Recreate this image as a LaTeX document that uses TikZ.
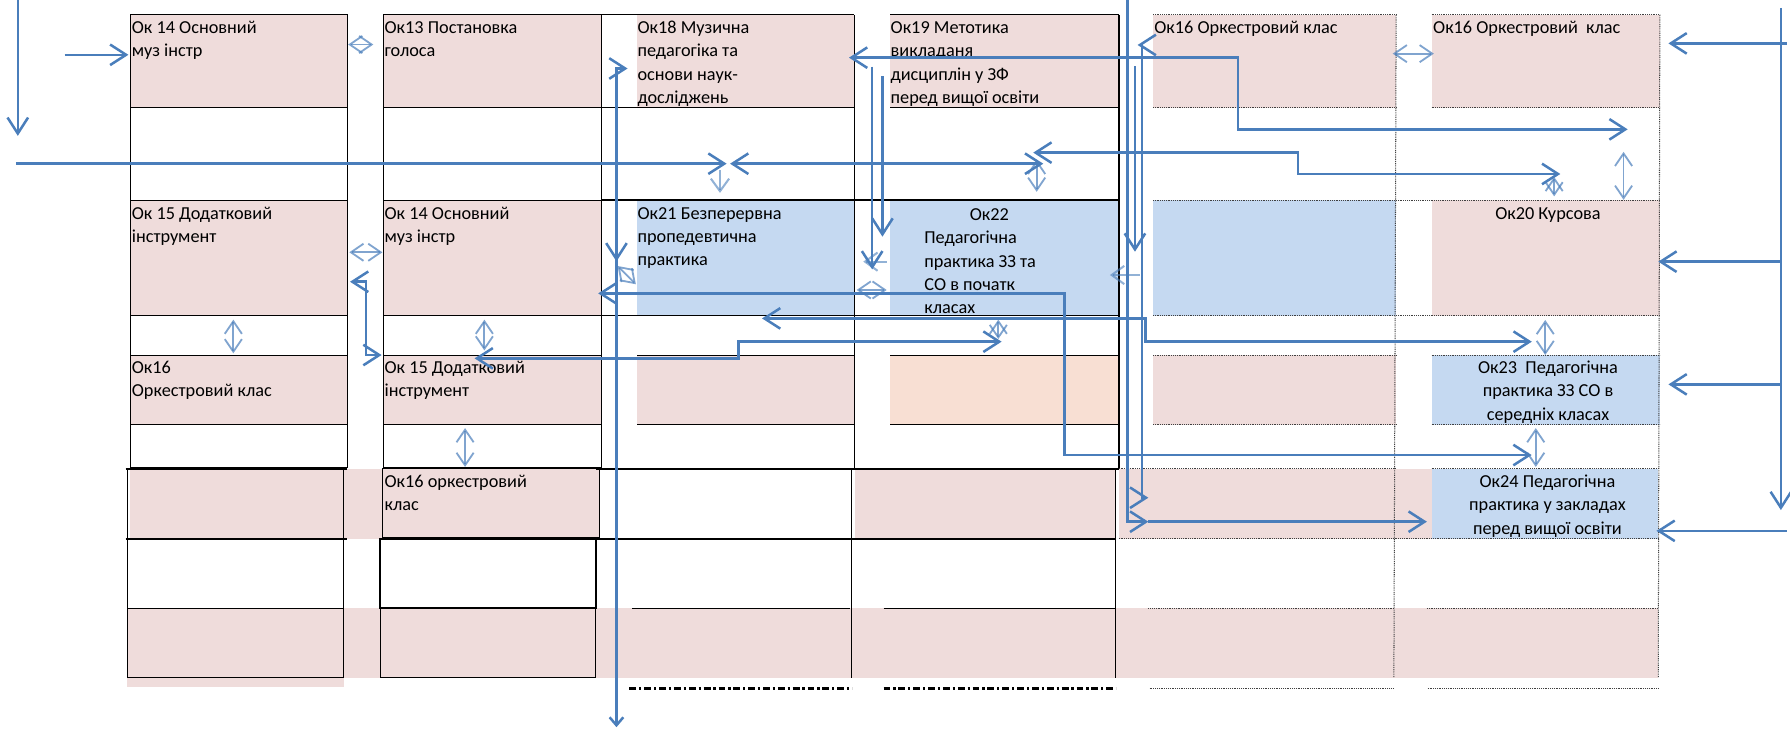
\documentclass[tikz,border=0pt]{standalone}
\usepackage{fontspec}
\setmainfont{Carlito}
\usetikzlibrary{arrows.meta}
\definecolor{pk}{HTML}{EFDCDB}
\definecolor{bl}{HTML}{C5D9F1}
\definecolor{pc}{HTML}{F8DFD3}
\definecolor{ln}{HTML}{4A7EBB}
\begin{document}
\begin{tikzpicture}[x=1pt,y=-1pt,
  grid/.style={draw=black, line width=0.9pt},
  gridthick/.style={draw=black, line width=1.5pt},
  dotl/.style={draw=black!75, line width=0.9pt, dash pattern=on 0.8pt off 0.8pt},
  dashdot/.style={draw=black, line width=2pt, dash pattern=on 6pt off 2.5pt on 2pt off 2.5pt},
  lbl/.style={anchor=north west, inner sep=0pt, font=\fontsize{16}{20.4}\selectfont, align=left},
  lblc/.style={anchor=north, inner sep=0pt, font=\fontsize{16}{20.4}\selectfont, align=center},
  conn/.style={draw=ln, line width=2.2pt, -{Straight Barb[length=14pt,width=18pt]}},
  conn2/.style={draw=ln, line width=2.2pt, {Straight Barb[length=14pt,width=18pt]}-{Straight Barb[length=14pt,width=18pt]}},
  fconn/.style={draw=ln, line width=1.8pt, opacity=0.6, -{Straight Barb[length=11pt,width=16pt]}},
  sdbl/.style={draw=ln, line width=1.6pt, opacity=0.7, {Straight Barb[length=11pt,width=15pt]}-{Straight Barb[length=11pt,width=15pt]}},
]
\useasboundingbox (0,0) rectangle (1568,642);

% ---------- fills ----------
\foreach \a/\b in {114/304,336/526.5,558.3/748.2,780/980.2,1010/1223,1254/1454}
  \fill[pk] (\a,13.1) rectangle (\b,94.3);
\foreach \a/\b in {114/304,336/526.5,1254/1454}
  \fill[pk] (\a,175.5) rectangle (\b,276.5);
\foreach \a/\b in {558.3/748.2,780/980.2,1010/1223}
  \fill[bl] (\a,175.5) rectangle (\b,276.5);
\foreach \a/\b in {114/304,336/526.5,558.3/748.2,1010/1223}
  \fill[pk] (\a,310.7) rectangle (\b,372);
\fill[pc] (780,310.7) rectangle (980.2,372);
\fill[bl] (1254,310.7) rectangle (1454,372);
\foreach \a/\b in {113.6/335.3,335.3/524.8,748.8/977.5,980/1254}
  \fill[pk] (\a,410.6) rectangle (\b,471.9);
\fill[bl] (1254,410.6) rectangle (1452.6,471.9);
\fill[pk] (111.5,533) rectangle (1452.6,593.6);
\fill[pk] (111.5,593.6) rectangle (301,601.5);

% ---------- solid grid ----------
\draw[grid] (114,13.1) rectangle (304,409.4);
\draw[grid] (336,13.1) rectangle (526.5,409.4);
\foreach \y in {94.3,175.5,276.5,311,372}{
  \draw[grid] (114,\y) -- (304,\y);
  \draw[grid] (336,\y) -- (526.5,\y);
}
\draw[grid] (526.5,13.1) -- (748.2,13.1);
\draw[grid] (526.5,94.3) -- (748.2,94.3);
\draw[gridthick] (526.5,175.5) -- (980.2,175.5);
\draw[grid] (526.5,276.5) -- (980.2,276.5);
\draw[grid] (558.3,311) -- (748.2,311);
\draw[grid] (558.3,372) -- (748.2,372);
\draw[grid] (748.2,13.1) -- (748.2,410.6);
\foreach \y in {13.1,94.3,311,372}
  \draw[grid] (780,\y) -- (980.2,\y);
\draw[grid] (980.2,13.1) -- (980.2,410.6);
\draw[gridthick] (110,410.6) -- (304,410.6);
\draw[gridthick] (110,471.9) -- (304,471.9);
\draw[grid] (111.5,533) -- (301,533);
\draw[grid] (111.5,593.6) -- (301,593.6);
\draw[grid] (111.5,410.6) -- (111.5,593.6);
\draw[grid] (301,410.6) -- (301,593.6);
\draw[grid] (335.3,410.6) rectangle (524.8,470.7);
\draw[line width=1.8pt] (333,472) rectangle (522,533);
\draw[grid] (333,533) -- (333,593.6) -- (522,593.6) -- (522,533);
\draw[gridthick] (522,410.6) -- (980,410.6);
\draw[gridthick] (522,472) -- (977.5,472);
\draw[grid] (554,533) -- (745,533);
\draw[gridthick] (774,533) -- (977.5,533);
\draw[grid] (746,410.6) -- (746,593.6);
\draw[grid] (977.5,410.6) -- (977.5,593.6);

% ---------- dotted grid ----------
\foreach \y in {13.1,94.3,311,372}{
  \draw[dotl] (1010,\y) -- (1223,\y);
  \draw[dotl] (1254,\y) -- (1454,\y);
}
\draw[dotl] (1010,175.5) -- (1454,175.5);
\draw[dotl] (1010,276.5) -- (1454,276.5);
\draw[dotl] (980,410.6) -- (1223,410.6);
\draw[dotl] (1254,410.6) -- (1452.6,410.6);
\draw[dotl] (980,472) -- (1452.6,472);
\draw[dotl] (1006,533) -- (1221,533);
\draw[dotl] (1250,533) -- (1452.6,533);
\draw[dotl] (1223,13.1) -- (1221,593.6);
\draw[dotl] (1454,13.1) -- (1452.6,593.6);
\draw[dotl] (1007,603) -- (1220,603);
\draw[dotl] (1250.6,603) -- (1452.6,603);
\draw[dashdot] (551.4,603) -- (746.4,603);
\draw[dashdot] (774,603) -- (977.5,603);

% ---------- labels ----------
\node[lbl] (t1) at (115.3,16.2) {\rule{0pt}{13pt}Ок 14 Основний\\муз інстр};
\node[lbl] (t2) at (336.7,16.2) {\rule{0pt}{13pt}Ок13 Постановка\\голоса};
\node[lbl] (t3) at (558.3,16.2) {\rule{0pt}{13pt}Ок18 Музична\\педагогіка та\\основи наук-\\досліджень};
\node[lbl] (t4) at (780,16.2) {\rule{0pt}{13pt}Ок19 Метотика\\викладаня\\дисциплін у ЗФ\\перед вищої освіти};
\node[lbl] (t5) at (1011,16.2) {\rule{0pt}{13pt}Ок16 Оркестровий клас};
\node[lbl] (t6) at (1255.2,16.2) {\rule{0pt}{13pt}Ок16 Оркестровий\ \ клас};
\node[lbl] (t7) at (115.3,178.8) {\rule{0pt}{13pt}Ок 15 Додатковий\\інструмент};
\node[lbl] (t8) at (336.7,178.8) {\rule{0pt}{13pt}Ок 14 Основний\\муз інстр};
\node[lbl] (t9) at (558.3,178.8) {\rule{0pt}{13pt}Ок21 Безперервна\\пропедевтична\\практика};
\node[lbl] (t10a) at (849.3,180) {\rule{0pt}{13pt}Ок22};
\node[lbl] (t10) at (809.5,200.4) {\rule{0pt}{13pt}Педагогічна\\практика ЗЗ та\\СО в початк\\класах};
\node[lbl] (t11) at (1309.6,179) {\rule{0pt}{13pt}Ок20 Курсова};
\node[lbl] (t12) at (115.3,314) {\rule{0pt}{13pt}Ок16\\Оркестровий клас};
\node[lbl] (t13) at (336.7,314) {\rule{0pt}{13pt}Ок 15 Додатковий\\інструмент};
\node[lblc] (t14) at (1356,314) {\rule{0pt}{13pt}Ок23\ \ Педагогічна\\практика ЗЗ СО в\\середніх класах};
\node[lbl] (t15) at (336.7,413.9) {\rule{0pt}{13pt}Ок16 оркестровий\\клас};
\node[lblc] (t16) at (1355.5,413.9) {\rule{0pt}{13pt}Ок24 Педагогічна\\практика у закладах\\перед вищої освіти};

% ---------- connectors ----------
\coordinate (c1a) at (15.6,0);      \coordinate (c1b) at (15.6,119);
\draw[conn] (c1a) -- (c1b);
\coordinate (c2a) at (56.5,48);     \coordinate (c2b) at (112.5,48);
\draw[conn] (c2a) -- (c2b);
\coordinate (c3a) at (13.9,143.4);  \coordinate (c3b) at (636.5,143.4);
\draw[conn] (c3a) -- (c3b);
\coordinate (c4a) at (639.5,143.4); \coordinate (c4b) at (913.9,143.4);
\draw[conn2] (c4a) -- (c4b);
\coordinate (c5a) at (905.1,133.7); \coordinate (c5b) at (1366.8,152.4);
\draw[conn2] (c5a) -- (1137,133.7) -- (1137,152.4) -- (c5b);
\coordinate (c6a) at (549.7,60);    \coordinate (c6b) at (540,637);
\draw[draw=ln, line width=2.2pt, {Straight Barb[length=14pt,width=18pt]}-{Straight Barb[length=7pt,width=12pt]}] (c6a) -- (540,60) -- (c6b);
\coordinate (c7a) at (540,70);      \coordinate (c7b) at (540,229);
\draw[conn] (c7a) -- (c7b);
\coordinate (c8a) at (524,257);     \coordinate (c8b) at (1341.7,398.6);
\draw[conn2] (c8a) -- (932.5,257) -- (932.5,398.6) -- (c8b);
\coordinate (c9a) at (667.5,278.9); \coordinate (c9b) at (1341.8,299.3);
\draw[conn2] (c9a) -- (1003.5,278.9) -- (1003.5,299.3) -- (c9b);
\coordinate (c10a) at (415.7,313.9); \coordinate (c10b) at (877.4,299.3);
\draw[conn2] (c10a) -- (646.7,313.9) -- (646.7,299.3) -- (c10b);
\coordinate (c11a) at (306.6,246.8); \coordinate (c11b) at (334.3,311);
\draw[conn2] (c11a) -- (320.4,246.8) -- (320.4,311) -- (c11b);
\coordinate (c12a) at (764,58.4);   \coordinate (c12b) at (764,236);
\draw[conn] (c12a) -- (c12b);
\coordinate (c13a) at (773,67);     \coordinate (c13b) at (773,207.3);
\draw[conn] (c13a) -- (c13b);
\coordinate (c14a) at (743.7,50.5); \coordinate (c14b) at (1425.8,113.3);
\draw[conn2] (c14a) -- (1084.3,50.5) -- (1084.3,113.3) -- (c14b);
\coordinate (c15a) at (987.5,0);    \coordinate (c15b) at (1005.9,457);
\draw[conn] (c15a) -- (987.5,457) -- (c15b);
\coordinate (c16b) at (1249.9,457);
\draw[conn] (c15b) -- (c16b);
\coordinate (c17a) at (996.5,39.4); \coordinate (c17b) at (1005.9,436);
\draw[conn2] (c17a) -- (1000.5,39.4) -- (1000.5,436) -- (c17b);
\coordinate (c18a) at (994.2,58);   \coordinate (c18b) at (994.2,220.5);
\draw[conn] (c18a) -- (c18b);
\coordinate (c19a) at (998.3,240.9); \coordinate (c19b) at (972.3,240.9);
\draw[fconn] (c19a) -- (c19b);
\coordinate (c20a) at (776.7,229.2); \coordinate (c20b) at (756.2,229.2);
\draw[fconn] (c20a) -- (c20b);
\coordinate (r0) at (1560,7);       \coordinate (r1) at (1560,446.8);
\draw[conn] (r0) -- (r1);
\coordinate (r2a) at (1565,38);     \coordinate (r2b) at (1461.5,38);
\draw[conn] (r2a) -- (r2b);
\coordinate (r3a) at (1560,229.2);  \coordinate (r3b) at (1452.6,229.2);
\draw[conn] (r3a) -- (r3b);
\coordinate (r4a) at (1560,336.7);  \coordinate (r4b) at (1461.5,336.7);
\draw[conn] (r4a) -- (r4b);
\coordinate (r5a) at (1565,465);    \coordinate (r5b) at (1451,465);
\draw[conn] (r5a) -- (r5b);

% ---------- small double arrows ----------
\coordinate (s1a) at (305,39);   \coordinate (s1b) at (327,39);   \draw[sdbl] (s1a) -- (s1b);
\coordinate (s2a) at (306,221);  \coordinate (s2b) at (335,221);  \draw[sdbl] (s2a) -- (s2b);
\coordinate (s3a) at (204.4,280); \coordinate (s3b) at (204.4,309.5); \draw[sdbl] (s3a) -- (s3b);
\coordinate (s4a) at (424.3,280); \coordinate (s4b) at (424.3,307);   \draw[sdbl] (s4a) -- (s4b);
\coordinate (s5a) at (407.4,375); \coordinate (s5b) at (407.4,409);   \draw[sdbl] (s5a) -- (s5b);
\coordinate (s6a) at (630.7,149); \coordinate (s6b) at (630.7,169);   \draw[fconn] (s6a) -- (s6b);
\coordinate (s7a) at (908.1,140); \coordinate (s7b) at (908.1,168);   \draw[sdbl] (s7a) -- (s7b);
\coordinate (s8a) at (1361.4,155); \coordinate (s8b) at (1361.4,172); \draw[sdbl] (s8a) -- (s8b);
\coordinate (s9a) at (1422.2,133); \coordinate (s9b) at (1422.2,175); \draw[sdbl] (s9a) -- (s9b);
\coordinate (s10a) at (1353.6,280.3); \coordinate (s10b) at (1353.6,311); \draw[sdbl] (s10a) -- (s10b);
\coordinate (s11a) at (1345.3,375); \coordinate (s11b) at (1345.3,409); \draw[sdbl] (s11a) -- (s11b);
\coordinate (s12a) at (1220,47);  \coordinate (s12b) at (1256,47);   \draw[sdbl] (s12a) -- (s12b);
\coordinate (s13a) at (750.4,254); \coordinate (s13b) at (776.7,254); \draw[sdbl] (s13a) -- (s13b);
\coordinate (s14a) at (874.5,280); \coordinate (s14b) at (874.5,297); \draw[sdbl] (s14a) -- (s14b);
\coordinate (s15a) at (541,233);  \coordinate (s15b) at (557,249);   \draw[sdbl] (s15a) -- (s15b);
\end{tikzpicture}
\end{document}
